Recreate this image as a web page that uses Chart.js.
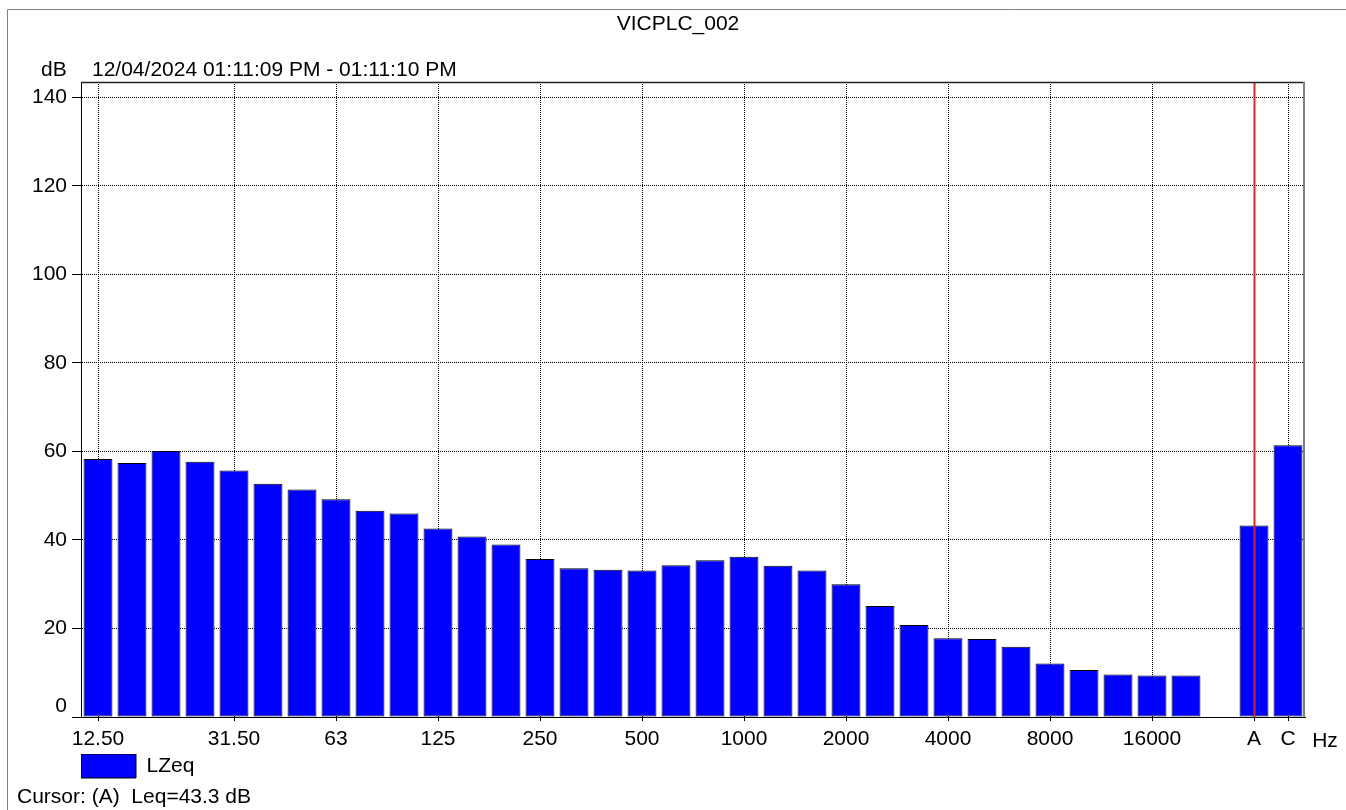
<!DOCTYPE html>
<html><head><meta charset="utf-8">
<script src="https://cdn.jsdelivr.net/npm/chart.js@4"></script>
<style>html,body{margin:0;padding:0;background:#fff}canvas{display:block}</style>
</head><body>
<canvas id="c" width="1346" height="810"></canvas>
<script>
const bands = ['12.50','16','20','25','31.50','40','50','63','80','100','125','160','200','250','315','400','500','630','800','1000','1250','1600','2000','2500','3150','4000','5000','6300','8000','10000','12500','16000','20000','','A','C'];
const lzeq = [58.3,57.4,60.1,57.7,55.7,52.7,51.4,49.2,46.6,46.0,42.6,40.8,39.0,35.7,33.6,33.3,33.1,34.3,35.4,36.2,34.2,33.1,30.0,25.1,20.8,17.8,17.6,15.9,12.1,10.6,9.6,9.4,9.4,null,43.3,61.4];
const shownLabels = ['12.50','31.50','63','125','250','500','1000','2000','4000','8000','16000','A','C'];
const yTicks = [0,20,40,60,80,100,120,140];
const yMax = 143.5;
const cursorBand = 'A';
const titleText = 'VICPLC_002';
const unitText = 'dB';
const periodText = '12/04/2024 01:11:09 PM - 01:11:10 PM';
const xUnitText = 'Hz';
const cursorText = 'Cursor: (A)  Leq=43.3 dB';

const FONT = '"Liberation Sans", Arial, sans-serif';
const isShown = i => shownLabels.includes(bands[i]);

const decor = {
  id: 'decor',
  beforeDraw(chart) {
    const ctx = chart.ctx;
    ctx.save();
    ctx.fillStyle = '#fff';
    ctx.fillRect(0, 0, chart.width, chart.height);
    ctx.strokeStyle = '#808080';
    ctx.lineWidth = 1;
    ctx.beginPath();
    ctx.moveTo(7.5, chart.height);
    ctx.lineTo(7.5, 9.5);
    ctx.lineTo(chart.width, 9.5);
    ctx.stroke();
    ctx.restore();
  },
  afterDatasetsDraw(chart) {
    const ctx = chart.ctx, a = chart.chartArea, x = chart.scales.x;
    ctx.save();
    const cx = Math.round(x.getPixelForValue(bands.indexOf(cursorBand))) + 0.5;
    ctx.strokeStyle = '#d02828';
    ctx.lineWidth = 2;
    ctx.beginPath();
    ctx.moveTo(cx, a.top);
    ctx.lineTo(cx, a.bottom);
    ctx.stroke();
    ctx.strokeStyle = '#222';
    ctx.lineWidth = 1.5;
    ctx.beginPath();
    ctx.moveTo(a.left, a.top + 0.5);
    ctx.lineTo(a.right, a.top + 0.5);
    ctx.stroke();
    ctx.strokeStyle = '#808080';
    ctx.lineWidth = 2;
    ctx.beginPath();
    ctx.moveTo(a.right - 1, a.top);
    ctx.lineTo(a.right - 1, a.bottom);
    ctx.stroke();
    ctx.restore();
  },
  afterDraw(chart) {
    const ctx = chart.ctx;
    ctx.save();
    ctx.fillStyle = '#000';
    ctx.font = '21px ' + FONT;
    ctx.textBaseline = 'alphabetic';
    ctx.textAlign = 'center';
    ctx.fillText(titleText, 678, 30);
    ctx.textAlign = 'left';
    ctx.fillText(unitText, 41, 76);
    ctx.fillText(periodText, 92, 76);
    ctx.fillText(cursorText, 17, 803);
    ctx.textAlign = 'center';
    ctx.fillText(xUnitText, 1325, 747);
    ctx.restore();
  }
};

new Chart(document.getElementById('c'), {
  type: 'bar',
  data: {
    labels: bands,
    datasets: [{
      label: 'LZeq',
      data: lzeq,
      backgroundColor: '#0000ff',
      borderColor: '#000',
      borderWidth: 1,
      borderSkipped: false,
      barPercentage: 0.85,
      categoryPercentage: 1.0
    }]
  },
  options: {
    responsive: false,
    animation: false,
    layout: { padding: { left: 0, top: 82, right: 41, bottom: 22 } },
    plugins: {
      tooltip: { enabled: false },
      legend: {
        position: 'bottom',
        align: 'start',
        fullSize: false,
        labels: { boxWidth: 55, boxHeight: 24, padding: 0, color: '#000', font: { family: FONT, size: 21 } }
      }
    },
    scales: {
      x: {
        grid: {
          offset: false,
          color: c => isShown(c.index) ? '#000' : 'rgba(0,0,0,0)',
          tickColor: c => isShown(c.index) ? '#000' : 'rgba(0,0,0,0)',
          tickLength: 4,
          lineWidth: 1
        },
        border: { dash: [1, 1], color: '#000', width: 1 },
        ticks: {
          autoSkip: false, maxRotation: 0, minRotation: 0, padding: 8,
          color: '#000', font: { family: FONT, size: 21, lineHeight: 1 },
          callback: (v, i) => isShown(i) ? bands[i] : ''
        },
        afterFit: s => { s.height = 37; }
      },
      y: {
        min: 0, max: yMax,
        afterBuildTicks: s => { s.ticks = yTicks.map(v => ({ value: v })); },
        grid: { color: '#000', tickColor: '#000', tickLength: 9, lineWidth: 1 },
        border: { dash: [1, 1], color: '#000', width: 1 },
        ticks: {
          padding: 5, color: '#000', font: { family: FONT, size: 21, lineHeight: 1 },
          callback: v => v === 0 ? ['0', ''] : String(v)
        },
        afterFit: s => { s.width = 81; }
      }
    }
  },
  plugins: [decor]
});
</script>
</body></html>
